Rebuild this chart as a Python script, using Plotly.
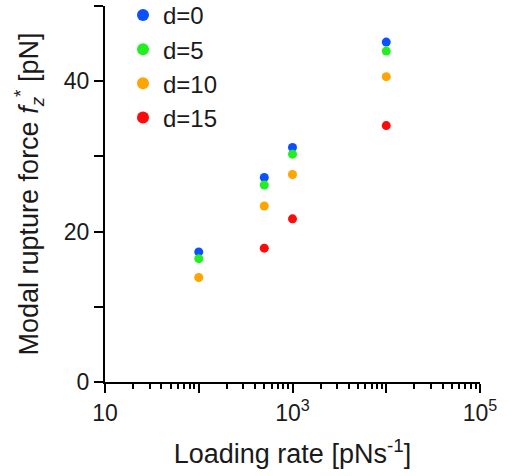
import plotly.graph_objects as go

loading_rate = [100, 500, 1000, 10000]
series_names = ["d=0", "d=5", "d=10", "d=15"]
force_d0 = [17.3, 27.2, 31.2, 45.2]
force_d5 = [16.4, 26.2, 30.3, 44.0]
force_d10 = [13.9, 23.4, 27.6, 40.6]
force_d15 = [None, 17.8, 21.7, 34.1]
colors = ["#0a50ff", "#22ee22", "#ffa500", "#ff0a0a"]

x_tickvals = [10, 100, 1000, 10000, 100000]
x_ticktext = ["10", "", "10<sup>3</sup>", "", "10<sup>5</sup>"]
y_tickvals = [0, 20, 40]
y_ticktext = ["0", "20", "40"]

FONT = "Arial, Liberation Sans, sans-serif"

fig = go.Figure()
for name, vals, c in zip(series_names, [force_d0, force_d5, force_d10, force_d15], colors):
    fig.add_trace(go.Scatter(x=loading_rate, y=vals, mode="markers", name=name,
                             marker=dict(color=c, size=9, line=dict(width=0))))

fig.update_layout(
    width=515, height=476,
    margin=dict(l=105, r=35, t=6, b=94, autoexpand=False),
    paper_bgcolor="white", plot_bgcolor="white",
    font=dict(family=FONT, size=23, color="#1a1a1a"),
    showlegend=True,
    legend=dict(x=0.048, y=1.035, xanchor="left", yanchor="top",
                bgcolor="rgba(0,0,0,0)",
                font=dict(size=24), itemsizing="constant", tracegroupgap=0),
)
fig.update_xaxes(
    type="log", range=[1, 5], showgrid=False, zeroline=False, automargin=False,
    showline=True, linecolor="black", linewidth=2,
    ticks="outside", ticklen=9, tickwidth=2, tickcolor="black",
    tickvals=x_tickvals, ticktext=x_ticktext,
    minor=dict(ticks="outside", ticklen=5, tickwidth=2, tickcolor="black", dtick="D1", showgrid=False),
    title=dict(text="Loading rate [pNs<sup>-1</sup>]", font=dict(size=27), standoff=20),
    tickfont=dict(size=23),
)
fig.update_yaxes(
    range=[0, 50], showgrid=False, zeroline=False, automargin=False,
    showline=True, linecolor="black", linewidth=2,
    ticks="outside", ticklen=9, tickwidth=2, tickcolor="black",
    tickvals=y_tickvals, ticktext=y_ticktext,
    minor=dict(ticks="outside", ticklen=9, tickwidth=2, tickcolor="black", dtick=10, showgrid=False),
    title=dict(text="\u00a0\u00a0Modal rupture force <i>f<sub>z</sub></i><sup>*</sup> [pN]",
               font=dict(size=27), standoff=17),
    tickfont=dict(size=23),
)

fig.write_html("out.html", config={"displayModeBar": False},
               post_script="document.body.style.margin='0';document.body.style.overflow='hidden';")
